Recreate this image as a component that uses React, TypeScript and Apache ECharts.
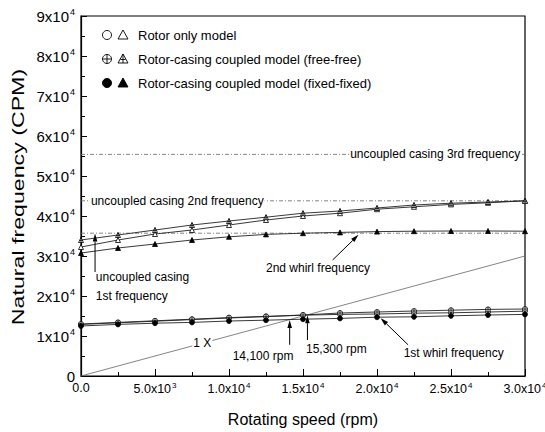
import React, { useEffect, useRef } from 'react';
import * as echarts from 'echarts';

// ---- data ----
const speeds = [0, 2500, 5000, 7500, 10000, 12500, 15000, 17500, 20000, 22500, 25000, 27500, 30000];
const rotorOnly1st = [12900, 13300, 13700, 14100, 14500, 14850, 15200, 15400, 15500, 15700, 15800, 16000, 16200];
const freeFree1st = [13000, 13400, 13800, 14200, 14600, 14900, 15250, 15750, 16000, 16250, 16450, 16650, 16750];
const fixedFixed1st = [12500, 12900, 13200, 13400, 13750, 13950, 14200, 14400, 14700, 14800, 15050, 15250, 15400];
const rotorOnly2nd = [32250, 34000, 35500, 36500, 37750, 39000, 40000, 40700, 41700, 42300, 42900, 43300, 43800];
const freeFree2nd = [34000, 35250, 36500, 37750, 38750, 39700, 40700, 41250, 42000, 42750, 43200, 43500, 43800];
const fixedFixed2nd = [30750, 32000, 33000, 34000, 34800, 35400, 35700, 35900, 36100, 36200, 36250, 36250, 36200];
const casingFreqs = [35700, 43800, 55400];
const oneXSpeeds = [0, 30000];
const xTickMantissa = ['0.0', '5.0', '1.0', '1.5', '2.0', '2.5', '3.0'];
const xTickExp = ['', '3', '4', '4', '4', '4', '4'];
const yTickMantissa = ['0', '1', '2', '3', '4', '5', '6', '7', '8', '9'];
const yTickExp = ['', '4', '4', '4', '4', '4', '4', '4', '4', '4'];
const legendLabels = [
  'Rotor only model',
  'Rotor-casing coupled model (free-free)',
  'Rotor-casing coupled model (fixed-fixed)',
];

const FONT = '"Liberation Sans", Arial, Helvetica, sans-serif';
const crossCircle = 'path://M10,0A10,10,0,1,1,-10,0A10,10,0,1,1,10,0ZM-10,0L10,0M0,-10L0,10';
const crossTri = 'path://M0,-10L10,8L-10,8ZM0,-10L0,8M-5,1L5,1';

function curve(name: string, vals: number[], symbol: string, fill: string) {
  return {
    type: 'line',
    name,
    data: speeds.map((s, i) => [s, vals[i]]),
    symbol,
    symbolSize: 5,
    showAllSymbol: true,
    lineStyle: { color: '#222', width: 0.9 },
    itemStyle: { color: fill, borderColor: '#000', borderWidth: 0.8 },
    z: 4,
  };
}

function refLine(vals: number[], color: string, type: any) {
  return {
    type: 'line',
    data: vals,
    symbol: 'none',
    lineStyle: { color, width: 0.8, type },
    z: 2,
    silent: true,
  };
}

const option: any = {
  animation: false,
  backgroundColor: '#fff',
  grid: { left: 81, right: 20, top: 16, bottom: 56, show: true, borderColor: '#000', borderWidth: 1.2, outerBoundsMode: 'none' },
  xAxis: {
    type: 'value',
    min: 0,
    max: 30000,
    interval: 5000,
    name: 'Rotating speed (rpm)',
    nameLocation: 'middle',
    nameGap: 35,
    nameTextStyle: { fontSize: 16, fontFamily: FONT, color: '#000' },
    axisLine: { lineStyle: { color: '#000', width: 1.2 } },
    axisTick: { inside: true, length: 7, lineStyle: { color: '#000' } },
    minorTick: { show: true, splitNumber: 2, length: 4, lineStyle: { color: '#000' } },
    splitLine: { show: false },
    axisLabel: {
      margin: 5,
      color: '#000',
      fontFamily: FONT,
      fontSize: 12,
      formatter: (v: number) => {
        const i = Math.round(v / 5000);
        return xTickExp[i] ? `{b|${xTickMantissa[i]}x10}{s|${xTickExp[i]}}` : `{b|${xTickMantissa[i]}}`;
      },
      rich: {
        b: { fontSize: 12.5, fontFamily: FONT, color: '#000' },
        s: { fontSize: 8, fontFamily: FONT, color: '#000', padding: [0, 0, 8, 1] },
      },
    },
  },
  yAxis: {
    type: 'value',
    min: 0,
    max: 90000,
    interval: 10000,
    axisLine: { show: true, lineStyle: { color: '#000', width: 1.2 } },
    axisTick: { show: true, inside: true, length: 6, lineStyle: { color: '#000' } },
    minorTick: { show: true, splitNumber: 2, length: 4, lineStyle: { color: '#000' } },
    splitLine: { show: false },
    axisLabel: {
      margin: 6,
      color: '#000',
      fontFamily: FONT,
      fontSize: 15,
      formatter: (v: number) => {
        const i = Math.round(v / 10000);
        return yTickExp[i] ? `{b|${yTickMantissa[i]}x10}{s|${yTickExp[i]}}` : `{b|${yTickMantissa[i]}}`;
      },
      rich: {
        b: { fontSize: 15, fontFamily: FONT, color: '#000' },
        s: { fontSize: 9, fontFamily: FONT, color: '#000', padding: [0, 0, 9, 1] },
      },
    },
  },
  series: [
    ...casingFreqs.map((f) => refLine([[oneXSpeeds[0], f], [oneXSpeeds[1], f]] as any, '#666', [4, 2, 1, 2])),
    refLine(oneXSpeeds.map((s) => [s, s]) as any, '#666', 'solid'),
    curve('rotor only 1st', rotorOnly1st, 'circle', '#fff'),
    curve('free-free 1st', freeFree1st, crossCircle, '#fff'),
    curve('fixed-fixed 1st', fixedFixed1st, 'circle', '#000'),
    curve('rotor only 2nd', rotorOnly2nd, 'triangle', '#fff'),
    curve('free-free 2nd', freeFree2nd, crossTri, '#fff'),
    curve('fixed-fixed 2nd', fixedFixed2nd, 'triangle', '#000'),
  ],
};

function buildGraphic(chart: any) {
  const P = (x: number, y: number) => chart.convertToPixel({ gridIndex: 0 }, [x, y]) as number[];
  const els: any[] = [];
  const text = (t: string, x: number, y: number, size: number, align = 'left', bg = true) => {
    els.push({
      type: 'text',
      x,
      y,
      z: 100,
      style: {
        text: t,
        fill: '#000',
        font: `${size}px ${FONT}`,
        align,
        verticalAlign: 'middle',
        backgroundColor: bg ? '#fff' : undefined,
        padding: bg ? [0, 1, 0, 1] : 0,
      },
    });
  };
  const arrow = (a: number[], b: number[]) => {
    const [x1, y1] = a;
    const [x2, y2] = b;
    const ang = Math.atan2(y2 - y1, x2 - x1);
    const L = 8;
    const W = 2.3;
    const bx = x2 - L * Math.cos(ang);
    const by = y2 - L * Math.sin(ang);
    const px = -Math.sin(ang);
    const py = Math.cos(ang);
    els.push({ type: 'line', z: 100, shape: { x1, y1, x2: bx, y2: by }, style: { stroke: '#000', lineWidth: 1 } });
    els.push({
      type: 'polygon',
      z: 100,
      shape: { points: [[x2, y2], [bx + W * px, by + W * py], [bx - W * px, by - W * py]] },
      style: { fill: '#000' },
    });
  };

  // casing frequency labels
  let p = P(600, casingFreqs[1]);
  text('uncoupled casing 2nd frequency', p[0], p[1], 12);
  p = P(29750, casingFreqs[2]);
  text('uncoupled casing 3rd frequency', p[0], p[1], 12, 'right');
  // 1st casing frequency
  p = P(1000, 24750);
  text('uncoupled casing', p[0], p[1], 12, 'left', false);
  p = P(1000, 20000);
  text('1st frequency', p[0], p[1], 12, 'left', false);
  arrow(P(950, 26000), P(950, casingFreqs[0] - 100));
  // 2nd whirl
  p = P(12500, 27000);
  text('2nd whirl frequency', p[0], p[1], 12, 'left', false);
  arrow(P(17000, 29000), P(18750, 35300));
  // 1X
  p = P(8200, 8200);
  text('1 X', p[0], p[1], 12, 'center');
  // crossings
  p = P(10250, 5000);
  text('14,100 rpm', p[0], p[1], 12, 'left', false);
  arrow(P(14100, 7800), P(14100, 14000));
  p = P(15200, 6750);
  text('15,300 rpm', p[0], p[1], 12, 'left', false);
  arrow(P(15300, 9000), P(15300, 15200));
  p = P(21800, 5750);
  text('1st whirl frequency', p[0], p[1], 12, 'left', false);
  arrow(P(22100, 7800), P(20250, 14450));

  // y axis name (stretched like the original)
  els.push({
    type: 'text',
    x: 18,
    y: 197,
    rotation: Math.PI / 2,
    scaleX: 1.45,
    z: 100,
    style: { text: 'Natural frequency (CPM)', fill: '#000', font: `16px ${FONT}`, align: 'center', verticalAlign: 'middle' },
  });

  // legend
  const rows = [35, 59, 83];
  const cx = 107;
  const tx = 123;
  const r = 4.5;
  const tri = (y: number) => [[tx, y - 5], [tx + 5, y + 4], [tx - 5, y + 4]];
  rows.forEach((y, i) => {
    const filled = i === 2;
    els.push({ type: 'circle', z: 100, shape: { cx, cy: y, r }, style: { fill: filled ? '#000' : '#fff', stroke: '#000', lineWidth: 0.9 } });
    els.push({ type: 'polygon', z: 100, shape: { points: tri(y) }, style: { fill: filled ? '#000' : '#fff', stroke: '#000', lineWidth: 0.9 } });
    if (i === 1) {
      els.push({ type: 'line', z: 101, shape: { x1: cx - r, y1: y, x2: cx + r, y2: y }, style: { stroke: '#000', lineWidth: 0.9 } });
      els.push({ type: 'line', z: 101, shape: { x1: cx, y1: y - r, x2: cx, y2: y + r }, style: { stroke: '#000', lineWidth: 0.9 } });
      els.push({ type: 'line', z: 101, shape: { x1: tx, y1: y - 5, x2: tx, y2: y + 4 }, style: { stroke: '#000', lineWidth: 0.9 } });
      els.push({ type: 'line', z: 101, shape: { x1: tx - 2.5, y1: y + 0.5, x2: tx + 2.5, y2: y + 0.5 }, style: { stroke: '#000', lineWidth: 0.9 } });
    }
    els.push({
      type: 'text',
      x: 138,
      y,
      z: 100,
      style: { text: legendLabels[i], fill: '#000', font: `13px ${FONT}`, align: 'left', verticalAlign: 'middle' },
    });
  });
  return els;
}

export default function App() {
  const ref = useRef<HTMLDivElement>(null);
  useEffect(() => {
    const chart = echarts.init(ref.current!, null, { renderer: 'svg' });
    chart.setOption(option);
    chart.setOption({ graphic: buildGraphic(chart) });
    return () => chart.dispose();
  }, []);
  return (
    <div
      ref={ref}
      style={{ position: 'absolute', left: 0, top: 0, width: 545, height: 432, background: '#fff' }}
    />
  );
}
